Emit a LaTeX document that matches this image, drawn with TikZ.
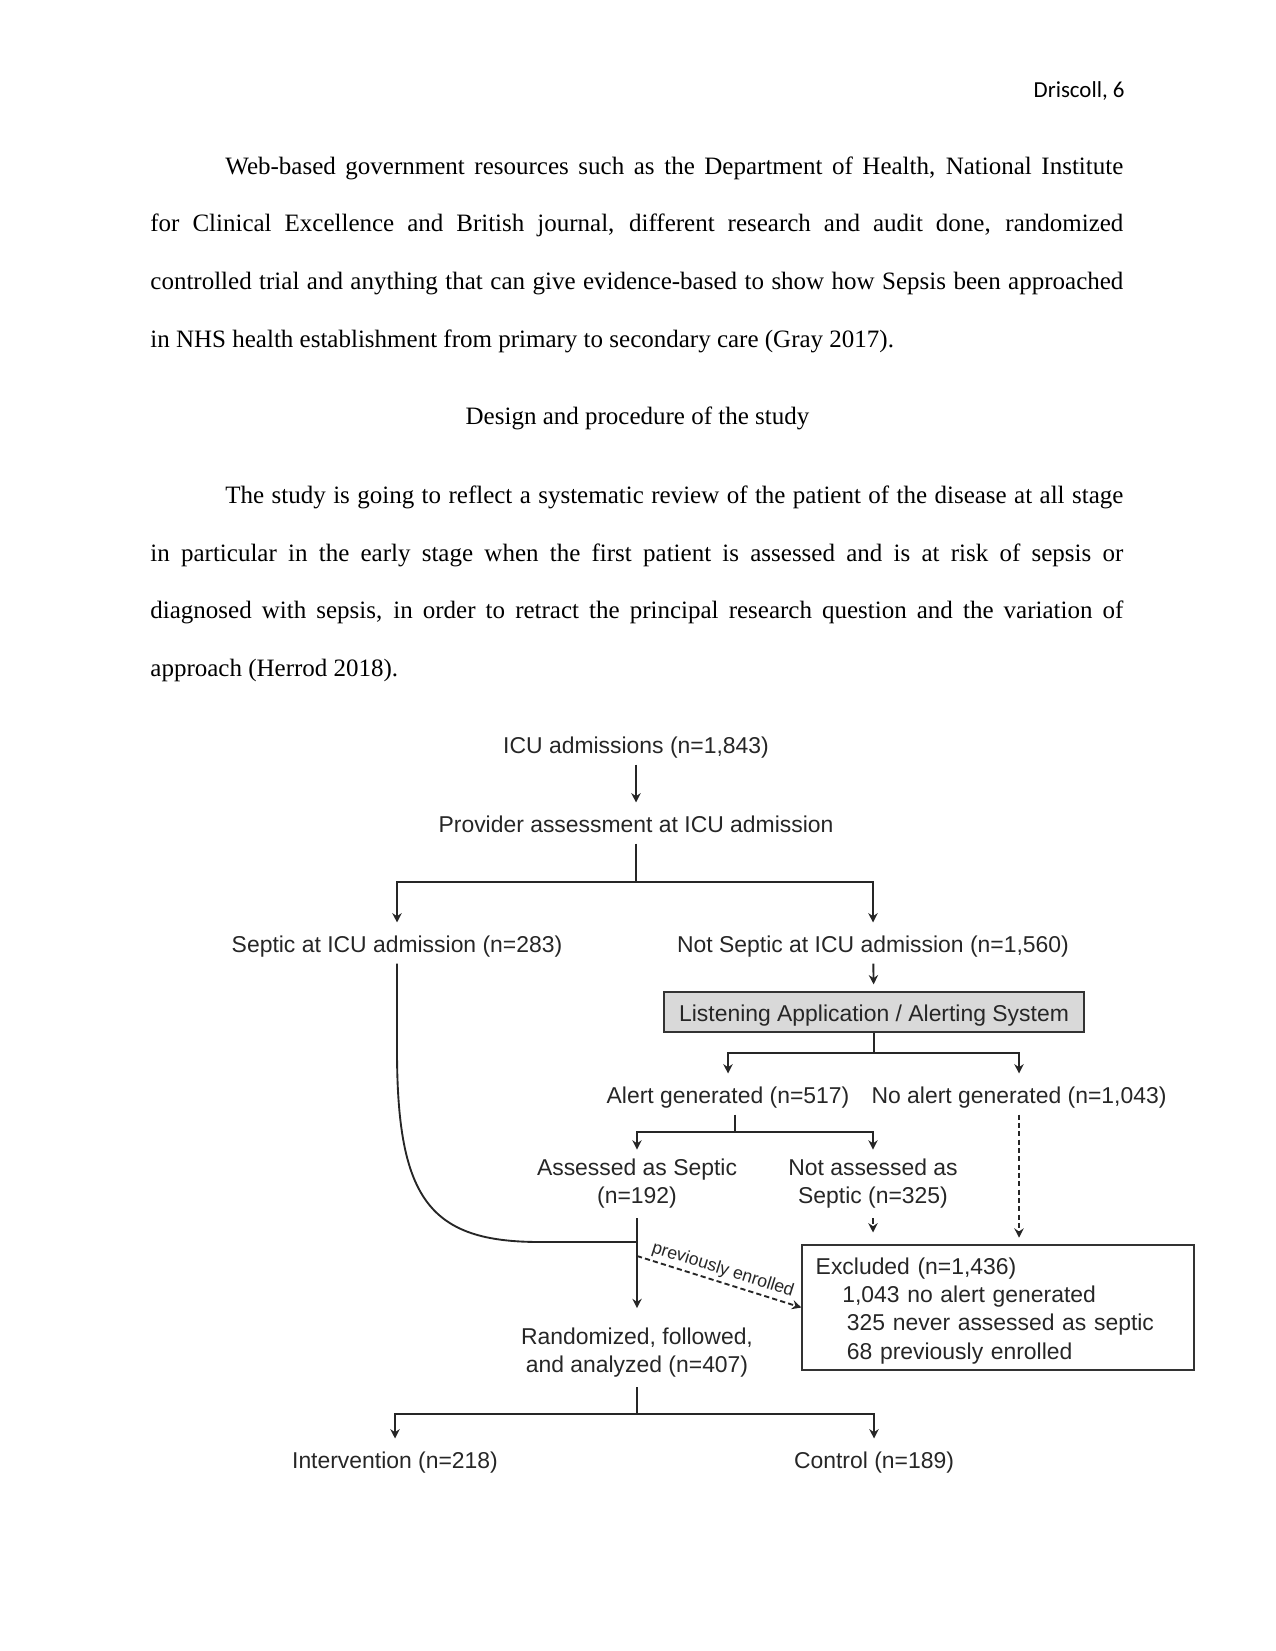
\documentclass[tikz,border=0pt]{standalone}
\usepackage{fontspec}
\setmainfont{Liberation Serif}
\newfontfamily\hdrfont{Carlito}
\newfontfamily\chartfont{Liberation Sans}
\usetikzlibrary{arrows.meta,positioning,calc}

\begin{document}
\begin{tikzpicture}[
  x=0.48pt,y=-0.48pt,
  font=\fontsize{12}{14}\selectfont,
  >={Stealth[length=4.5pt,width=4.5pt,inset=1.5pt]},
  txt/.style={anchor=base west,inner sep=0pt},
  lbl/.style={font=\chartfont\fontsize{11}{13.4}\selectfont,text=black!85,inner xsep=2pt,inner ysep=4.5pt,text height=9.5pt,text depth=0.8pt},
  lbltwo/.style={font=\chartfont\fontsize{11}{13.4}\selectfont,text=black!85,inner xsep=2pt,inner ysep=4.5pt,align=center},
  sysbox/.style={lbl,draw=black!80,fill=black!15,line width=1pt,minimum width=201.6pt,minimum height=19.5pt},
  exbox/.style={draw=black!80,line width=1pt,font=\chartfont\fontsize{11}{13.6}\selectfont,text=black!85,align=left,text width=175pt,inner xsep=6.4pt,inner ysep=2pt,minimum width=187.8pt,minimum height=60pt},
  line/.style={draw=black!85,line width=0.9pt},
  arr/.style={line,->},
  dasharr/.style={arr,dash pattern=on 2.5pt off 1.5pt}
]
  \useasboundingbox (0,0) rectangle (1275,1651);

  % page text
  \node[anchor=base east,inner sep=0pt,font=\hdrfont\fontsize{11}{13}\selectfont] (hdr) at (1125,97.7) {Driscoll, 6};

  \node[txt] (p1a) at (225,174.5) {\makebox[431pt][s]{Web-based government resources such as the Department of Health, National Institute}};
  \node[txt] (p1b) at (150,232) {\makebox[467pt][s]{for Clinical Excellence and British journal, different research and audit done, randomized}};
  \node[txt] (p1c) at (150,289.5) {\makebox[467pt][s]{controlled trial and anything that can give evidence-based to show how Sepsis been approached}};
  \node[txt] (p1d) at (150,347.5) {in NHS health establishment from primary to secondary care (Gray 2017).};

  \node[anchor=base,inner sep=0pt] (head) at (637.5,424) {Design and procedure of the study};

  \node[txt] (p2a) at (225,503.5) {\makebox[431pt][s]{The study is going to reflect a systematic review of the patient of the disease at all stage}};
  \node[txt] (p2b) at (150,561) {\makebox[467pt][s]{in particular in the early stage when the first patient is assessed and is at risk of sepsis or}};
  \node[txt] (p2c) at (150,618.5) {\makebox[467pt][s]{diagnosed with sepsis, in order to retract the principal research question and the variation of}};
  \node[txt] (p2d) at (150,676.5) {approach (Herrod 2018).};

  % flow chart
  \node[lbl] (icu) at (636,744) {ICU admissions (n=1,843)};
  \node[lbl] (prov) at (636,823) {Provider assessment at ICU admission};
  \node[lbl] (septic) at (397,943) {Septic at ICU admission (n=283)};
  \node[lbl] (notsep) at (873,943) {Not Septic at ICU admission (n=1,560)};
  \node[sysbox] (listen) at (874,1012) {Listening Application / Alerting System};
  \node[lbl] (alert) at (728,1094) {Alert generated (n=517)};
  \node[lbl] (noalert) at (1019,1094) {No alert generated (n=1,043)};
  \node[lbltwo] (assessed) at (637,1184) {Assessed as Septic\\(n=192)};
  \node[lbltwo] (notassessed) at (873,1184) {Not assessed as\\Septic (n=325)};
  \node[exbox] (excluded) at (998,1307.5) {\rule{0pt}{11pt}Excluded (n=1,436)\\
    \hspace*{12.8pt}1,043 no alert generated\\
    \hspace*{15pt}325 never assessed as septic\\
    \hspace*{15pt}68 previously enrolled};
  \node[lbltwo] (random) at (637,1353) {Randomized, followed,\\and analyzed (n=407)};
  \node[lbl] (interv) at (395,1459) {Intervention (n=218)};
  \node[lbl] (control) at (874,1459) {Control (n=189)};

  \coordinate (s1) at (636,882);
  \coordinate (s2) at (874,1053);
  \coordinate (s3) at (735,1132);
  \coordinate (join) at (637,1242);
  \coordinate (prevfrom) at (637,1256);
  \coordinate (s4) at (637,1414);

  \draw[arr] (icu) -- (prov);
  \draw[line] (prov) -- (s1);
  \draw[arr] (s1) -| (septic);
  \draw[arr] (s1) -| (notsep);
  \draw[arr,shorten >=3pt] (notsep) -- (listen);
  \draw[line] (listen) -- (s2);
  \draw[arr] (s2) -| (alert);
  \draw[arr] (s2) -| (noalert);
  \draw[line] (alert.south -| s3) -- (s3);
  \draw[arr] (s3) -| (assessed);
  \draw[arr] (s3) -| (notassessed);
  \draw[dasharr,shorten >=5.5pt] (notassessed) -- (notassessed |- excluded.north);
  \draw[dasharr,shorten >=3pt] (noalert) -- (noalert |- excluded.north);
  \draw[arr,shorten >=5pt] (assessed) -- (random);
  \draw[line] (septic) -- (397,1050) .. controls (397,1200) and (430,1242) .. (540,1242) -- (join);
  \draw[dasharr] (prevfrom) -- (excluded.west)
    node[midway,above,sloped,inner sep=1.5pt,text=black!85,font=\chartfont\fontsize{8.5}{10}\selectfont] {previously enrolled};
  \draw[line] (random) -- (s4);
  \draw[arr] (s4) -| (interv);
  \draw[arr] (s4) -| (control);
\end{tikzpicture}
\end{document}
